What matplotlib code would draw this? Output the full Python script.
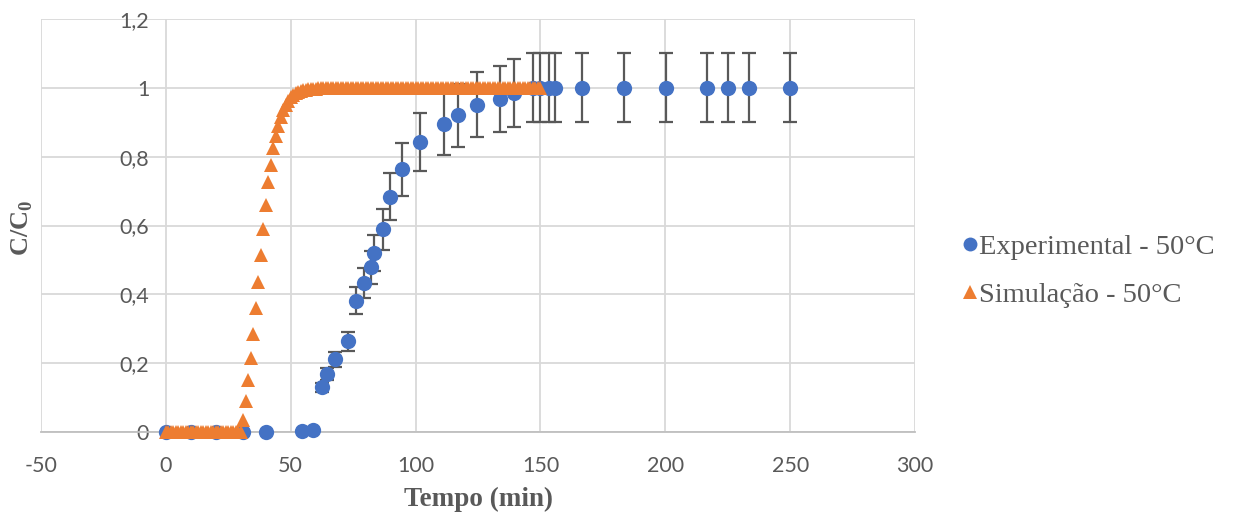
import numpy as np
import matplotlib
matplotlib.use("Agg")
import matplotlib.pyplot as plt
from matplotlib.lines import Line2D

plt.rcParams["axes.unicode_minus"] = False

# experimental breakthrough points
exp_t = [0, 10, 20, 31, 40.3, 54.7, 59.1, 62.7, 64.7, 67.6, 73.1, 76.3, 79.2, 82.1,
         83.2, 87.1, 89.6, 94.7, 101.6, 111.2, 116.8, 124.5, 133.7, 139.6, 147,
         150, 153.5, 156, 166.7, 183.6, 200.3, 216.9, 225.2, 233.5, 250]
exp_c = [0, 0, 0, 0, 0, 0.003, 0.006, 0.13, 0.169, 0.211, 0.263, 0.382, 0.432, 0.479,
         0.521, 0.589, 0.683, 0.763, 0.843, 0.895, 0.92, 0.951, 0.967, 0.984, 1.0,
         1.0, 1.0, 1.0, 1.0, 1.0, 1.0, 1.0, 1.0, 1.0, 1.0]
err_pct = 10  # percentage error bars

# simulation, one point per minute from 0 to 150
sim_t = list(range(0, 151))
sim_c = ([0.0] * 31 +
         [0.035, 0.09, 0.15, 0.215, 0.285, 0.36, 0.435, 0.515, 0.59, 0.66,
          0.725, 0.775, 0.825, 0.86, 0.89, 0.915, 0.935, 0.95, 0.962, 0.972,
          0.979, 0.984, 0.988, 0.991, 0.993, 0.995, 0.996, 0.997, 0.998, 0.998,
          0.999, 0.999, 0.999, 0.999] +
         [1.0] * 86)

x_ticks = [-50, 0, 50, 100, 150, 200, 250, 300]
y_ticks = [0, 0.2, 0.4, 0.6, 0.8, 1.0, 1.2]
y_labels = ["0", "0,2", "0,4", "0,6", "0,8", "1", "1,2"]

blue = "#4472C4"
orange = "#ED7D31"
grey_txt = "#595959"

fig = plt.figure(figsize=(12.34, 5.2), dpi=100)
ax = fig.add_axes([41 / 1234, 1 - 432 / 520, (915 - 41) / 1234, (432 - 19) / 520])

yerr = [c * err_pct / 100 for c in exp_c]
ax.errorbar(exp_t, exp_c, yerr=yerr, fmt="none", ecolor=grey_txt, elinewidth=1.6,
            capsize=4.8, capthick=1.6, zorder=3, clip_on=False)
ax.plot(exp_t, exp_c, "o", color=blue, markersize=11, markeredgewidth=0,
        zorder=4, clip_on=False)
ax.plot(sim_t, sim_c, "^", color=orange, markersize=10.5, markeredgewidth=0,
        zorder=5, clip_on=False)

ax.set_xlim(-50, 300)
ax.set_ylim(0, 1.2)
ax.set_xticks(x_ticks)
ax.set_yticks(y_ticks)
ax.set_yticklabels(y_labels)
ax.grid(True, color="#D9D9D9", linewidth=1.3)
ax.set_axisbelow(True)

for s in ["top", "right"]:
    ax.spines[s].set_visible(False)
ax.spines["left"].set_position(("data", 0))
ax.spines["left"].set_visible(False)
ax.spines["bottom"].set_color("#BFBFBF")
ax.spines["bottom"].set_linewidth(1.3)

ax.tick_params(axis="both", length=0, labelcolor=grey_txt, labelsize=15.5)
ax.tick_params(axis="y", pad=12)
ax.tick_params(axis="x", pad=17)
for lab in ax.get_xticklabels() + ax.get_yticklabels():
    lab.set_fontfamily("Lato")

ax.set_xlabel("Tempo (min)", fontfamily="Liberation Serif", fontweight="bold",
              fontsize=19.5, color=grey_txt, labelpad=8)
fig.text(22 / 1234, 1 - 228 / 520, "C/C$_\\mathregular{0}$", rotation=90,
         fontfamily="Liberation Serif", fontweight="bold", fontsize=19,
         color=grey_txt, ha="center", va="center")

handles = [
    Line2D([], [], marker="o", linestyle="none", color=blue, markersize=10, markeredgewidth=0),
    Line2D([], [], marker="^", linestyle="none", color=orange, markersize=10, markeredgewidth=0),
]
leg = fig.legend(handles, ["Experimental - 50°C", "Simulação - 50°C"],
                 loc="center left", bbox_to_anchor=(936 / 1234, 1 - 271 / 520),
                 frameon=False, handlelength=0.6, handletextpad=0.0,
                 labelspacing=0.78, prop={"family": "Liberation Serif", "size": 20.5})
for t in leg.get_texts():
    t.set_color(grey_txt)

fig.savefig("out.png", dpi=100)
